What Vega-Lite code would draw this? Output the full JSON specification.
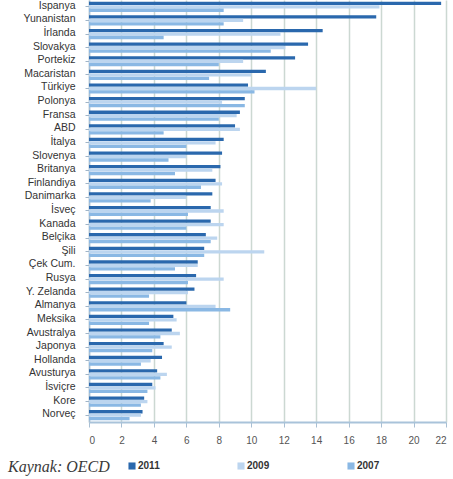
{
  "$schema": "https://vega.github.io/schema/vega-lite/v6.json",
  "autosize": {"type": "none"},
  "padding": {"left": 89, "top": 0, "right": 7, "bottom": 57},
  "width": 357,
  "height": 422,
  "background": "white",
  "config": {"view": {"stroke": null}},
  "title": {
    "text": "Kaynak: OECD",
    "orient": "bottom",
    "anchor": "start",
    "frame": "group",
    "dx": -81,
    "offset": -12,
    "font": "Liberation Serif",
    "fontStyle": "italic",
    "fontWeight": "normal",
    "fontSize": 16,
    "color": "#3a3a3a"
  },
  "data": {
    "values": [
      {"country": "İspanya", "year": "2011", "value": 21.7},
      {"country": "İspanya", "year": "2009", "value": 17.9},
      {"country": "İspanya", "year": "2007", "value": 8.3},
      {"country": "Yunanistan", "year": "2011", "value": 17.7},
      {"country": "Yunanistan", "year": "2009", "value": 9.5},
      {"country": "Yunanistan", "year": "2007", "value": 8.3},
      {"country": "İrlanda", "year": "2011", "value": 14.4},
      {"country": "İrlanda", "year": "2009", "value": 11.8},
      {"country": "İrlanda", "year": "2007", "value": 4.6},
      {"country": "Slovakya", "year": "2011", "value": 13.5},
      {"country": "Slovakya", "year": "2009", "value": 12.1},
      {"country": "Slovakya", "year": "2007", "value": 11.2},
      {"country": "Portekiz", "year": "2011", "value": 12.7},
      {"country": "Portekiz", "year": "2009", "value": 9.5},
      {"country": "Portekiz", "year": "2007", "value": 8.0},
      {"country": "Macaristan", "year": "2011", "value": 10.9},
      {"country": "Macaristan", "year": "2009", "value": 10.0},
      {"country": "Macaristan", "year": "2007", "value": 7.4},
      {"country": "Türkiye", "year": "2011", "value": 9.8},
      {"country": "Türkiye", "year": "2009", "value": 14.0},
      {"country": "Türkiye", "year": "2007", "value": 10.2},
      {"country": "Polonya", "year": "2011", "value": 9.6},
      {"country": "Polonya", "year": "2009", "value": 8.2},
      {"country": "Polonya", "year": "2007", "value": 9.6},
      {"country": "Fransa", "year": "2011", "value": 9.3},
      {"country": "Fransa", "year": "2009", "value": 9.1},
      {"country": "Fransa", "year": "2007", "value": 8.0},
      {"country": "ABD", "year": "2011", "value": 9.0},
      {"country": "ABD", "year": "2009", "value": 9.3},
      {"country": "ABD", "year": "2007", "value": 4.6},
      {"country": "İtalya", "year": "2011", "value": 8.3},
      {"country": "İtalya", "year": "2009", "value": 7.8},
      {"country": "İtalya", "year": "2007", "value": 6.0},
      {"country": "Slovenya", "year": "2011", "value": 8.2},
      {"country": "Slovenya", "year": "2009", "value": 6.0},
      {"country": "Slovenya", "year": "2007", "value": 4.9},
      {"country": "Britanya", "year": "2011", "value": 8.1},
      {"country": "Britanya", "year": "2009", "value": 7.6},
      {"country": "Britanya", "year": "2007", "value": 5.3},
      {"country": "Finlandiya", "year": "2011", "value": 7.8},
      {"country": "Finlandiya", "year": "2009", "value": 8.2},
      {"country": "Finlandiya", "year": "2007", "value": 6.9},
      {"country": "Danimarka", "year": "2011", "value": 7.6},
      {"country": "Danimarka", "year": "2009", "value": 6.0},
      {"country": "Danimarka", "year": "2007", "value": 3.8},
      {"country": "İsveç", "year": "2011", "value": 7.5},
      {"country": "İsveç", "year": "2009", "value": 8.3},
      {"country": "İsveç", "year": "2007", "value": 6.1},
      {"country": "Kanada", "year": "2011", "value": 7.5},
      {"country": "Kanada", "year": "2009", "value": 8.3},
      {"country": "Kanada", "year": "2007", "value": 6.0},
      {"country": "Belçika", "year": "2011", "value": 7.2},
      {"country": "Belçika", "year": "2009", "value": 7.9},
      {"country": "Belçika", "year": "2007", "value": 7.5},
      {"country": "Şili", "year": "2011", "value": 7.1},
      {"country": "Şili", "year": "2009", "value": 10.8},
      {"country": "Şili", "year": "2007", "value": 7.1},
      {"country": "Çek Cum.", "year": "2011", "value": 6.7},
      {"country": "Çek Cum.", "year": "2009", "value": 6.7},
      {"country": "Çek Cum.", "year": "2007", "value": 5.3},
      {"country": "Rusya", "year": "2011", "value": 6.6},
      {"country": "Rusya", "year": "2009", "value": 8.3},
      {"country": "Rusya", "year": "2007", "value": 6.1},
      {"country": "Y. Zelanda", "year": "2011", "value": 6.5},
      {"country": "Y. Zelanda", "year": "2009", "value": 6.1},
      {"country": "Y. Zelanda", "year": "2007", "value": 3.7},
      {"country": "Almanya", "year": "2011", "value": 6.0},
      {"country": "Almanya", "year": "2009", "value": 7.8},
      {"country": "Almanya", "year": "2007", "value": 8.7},
      {"country": "Meksika", "year": "2011", "value": 5.2},
      {"country": "Meksika", "year": "2009", "value": 5.4},
      {"country": "Meksika", "year": "2007", "value": 3.7},
      {"country": "Avustralya", "year": "2011", "value": 5.1},
      {"country": "Avustralya", "year": "2009", "value": 5.6},
      {"country": "Avustralya", "year": "2007", "value": 4.4},
      {"country": "Japonya", "year": "2011", "value": 4.6},
      {"country": "Japonya", "year": "2009", "value": 5.1},
      {"country": "Japonya", "year": "2007", "value": 3.9},
      {"country": "Hollanda", "year": "2011", "value": 4.5},
      {"country": "Hollanda", "year": "2009", "value": 3.8},
      {"country": "Hollanda", "year": "2007", "value": 3.2},
      {"country": "Avusturya", "year": "2011", "value": 4.2},
      {"country": "Avusturya", "year": "2009", "value": 4.8},
      {"country": "Avusturya", "year": "2007", "value": 4.4},
      {"country": "İsviçre", "year": "2011", "value": 3.9},
      {"country": "İsviçre", "year": "2009", "value": 4.1},
      {"country": "İsviçre", "year": "2007", "value": 3.6},
      {"country": "Kore", "year": "2011", "value": 3.4},
      {"country": "Kore", "year": "2009", "value": 3.6},
      {"country": "Kore", "year": "2007", "value": 3.2},
      {"country": "Norveç", "year": "2011", "value": 3.3},
      {"country": "Norveç", "year": "2009", "value": 3.2},
      {"country": "Norveç", "year": "2007", "value": 2.5}
    ]
  },
  "mark": {"type": "bar"},
  "encoding": {
    "y": {
      "field": "country",
      "type": "nominal",
      "sort": null,
      "scale": {"paddingInner": 0.25, "paddingOuter": 0.125},
      "axis": {
        "title": null,
        "labelFont": "Liberation Sans",
        "labelFontSize": 10.5,
        "labelColor": "#333333",
        "labelPadding": 10,
        "labelOffset": -1,
        "tickSize": 4,
        "tickColor": "#9fb4c8",
        "domainColor": "#a9bfd3",
        "domainWidth": 1.5,
        "grid": false
      }
    },
    "x": {
      "field": "value",
      "type": "quantitative",
      "scale": {"domain": [0, 22], "nice": false},
      "axis": {
        "title": null,
        "values": [0, 2, 4, 6, 8, 10, 12, 14, 16, 18, 20, 22],
        "labelFont": "Liberation Sans",
        "labelFontSize": 10,
        "labelColor": "#555555",
        "labelPadding": 8,
        "tickSize": 5,
        "tickColor": "#a9bfd3",
        "domainColor": "#a9c3da",
        "domainWidth": 2,
        "grid": true,
        "gridColor": "#ccd8d2",
        "gridWidth": 1.5
      }
    },
    "yOffset": {
      "field": "year",
      "type": "nominal",
      "sort": ["2011", "2009", "2007"],
      "scale": {"paddingInner": 0.05}
    },
    "color": {
      "field": "year",
      "type": "nominal",
      "sort": ["2011", "2009", "2007"],
      "scale": {"domain": ["2011", "2009", "2007"], "range": ["#2a68ad", "#bcd5ef", "#8ab8e4"]},
      "legend": {
        "title": null,
        "orient": "none",
        "legendX": 38,
        "legendY": 461,
        "direction": "horizontal",
        "columns": 3,
        "columnPadding": 76,
        "symbolType": "square",
        "symbolSize": 50,
        "symbolStrokeWidth": 0,
        "labelFont": "Liberation Sans",
        "labelFontSize": 10,
        "labelFontWeight": "bold",
        "labelColor": "#333333",
        "labelOffset": 1
      }
    }
  }
}
